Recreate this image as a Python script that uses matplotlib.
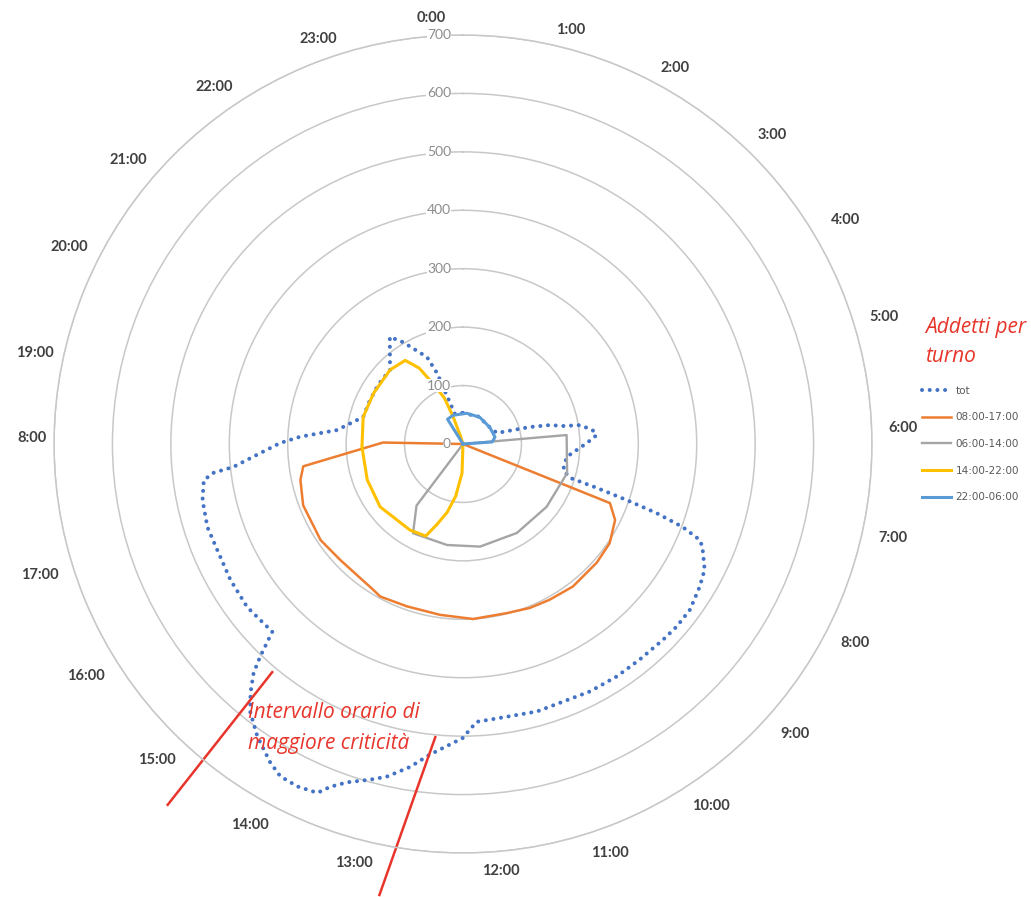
import numpy as np
import matplotlib
matplotlib.use("Agg")
import matplotlib.pyplot as plt
from matplotlib.transforms import offset_copy

# --- dati (ore del giorno, numero addetti) ---
tot_h = [0.00, 2.00, 3.87, 4.80, 5.05, 5.18, 5.32, 5.39, 5.59, 5.75, 5.97, 6.47, 6.97,
         7.17, 7.21, 7.26, 7.31, 7.38, 7.47, 7.55, 7.83, 8.07, 8.41, 8.70, 8.96, 9.38,
         9.77, 10.19, 10.59, 10.97, 11.63, 11.81, 11.91, 12.00, 12.41, 12.62, 12.86,
         13.03, 13.26, 13.41, 13.51, 13.72, 13.92, 14.08, 14.34, 14.56, 14.70, 14.83,
         14.91, 15.03, 15.21, 15.53, 15.98, 16.45, 16.80, 17.19, 17.47, 17.56, 17.62,
         17.83, 18.02, 18.17, 18.42, 19.01, 19.67, 20.33, 21.03, 21.71, 21.97, 22.50,
         22.66, 22.83, 23.00]
tot_v = [53, 54, 54, 61, 118, 152, 174, 203, 223, 229, 212, 179, 177,
         192, 241, 296, 352, 402, 437, 446, 466, 473, 481, 481, 479, 477,
         477, 476, 473, 475, 474, 476, 489, 503, 535, 560, 584,
         596, 612, 629, 647, 651, 649, 637, 612, 586, 560, 531,
         503, 458, 459, 463, 461, 458, 460, 456, 448, 430, 395,
         347, 313, 279, 217, 177, 176, 177, 178, 222, 202, 161,
         129, 74, 53]

t1_h = [7.43, 7.46, 7.77, 8.27, 8.77, 9.49, 10.06, 10.52, 11.03, 11.78, 12.51, 13.27,
        13.90, 14.11, 15.11, 15.73, 16.60, 17.17, 17.47, 18.07, 18.13]
t1_v = [0, 271, 291, 303, 306, 308, 305, 303, 299, 300, 295, 294,
        297, 293, 289, 294, 293, 285, 276, 137, 0]

t2_h = [5.65, 5.67, 7.04, 8.46, 9.92, 11.37, 12.60, 13.95, 14.47, 14.53]
t2_v = [0, 178, 185, 179, 178, 178, 175, 175, 132, 0]

t3_h = [11.80, 12.13, 12.53, 12.87, 13.20, 13.47, 14.11, 15.52, 16.63, 17.89, 19.01,
        19.97, 21.03, 21.69, 22.00, 22.27, 22.53, 22.67, 22.80, 22.87]
t3_v = [0, 50, 90, 120, 145, 170, 173, 178, 175, 173, 177,
        176, 178, 174, 150, 112, 85, 50, 15, 0]

t4_h = [21.86, 21.87, 22.73, 0.47, 2.13, 3.87, 5.20, 5.73, 5.75]
t4_v = [0, 50, 52, 53, 54, 54, 56, 50, 0]

serie = ["tot", "08:00-17:00", "06:00-14:00", "14:00-22:00", "22:00-06:00"]

ore_lab = ["0:00", "1:00", "2:00", "3:00", "4:00", "5:00", "6:00", "7:00", "8:00",
           "9:00", "10:00", "11:00", "12:00", "13:00", "14:00", "15:00", "16:00",
           "17:00", "8:00", "19:00", "20:00", "21:00", "22:00", "23:00"]
# posizione delle etichette (gradi, distanza in px dal centro)
lab_pos = [(-4.2, 427), (14.5, 428), (29.4, 432), (45.0, 437), (59.6, 443), (73.2, 440),
           (87.9, 440), (102.3, 440), (116.9, 440), (131.1, 441), (145.6, 439),
           (160.2, 435), (175.0, 429), (194.6, 433), (209.2, 437), (224.1, 440),
           (238.4, 443), (252.8, 443), (270.8, 431), (282.0, 438), (296.6, 440),
           (310.3, 439), (325.2, 435), (340.3, 430)]

# linee rosse dell'intervallo critico (ora, valore)
crit = [((14.66, 509), (14.62, 798)), ((12.36, 504), (12.70, 785))]

W, H = 1031, 897
cx, cy, R = 463, 444, 409
rmax = 700
rosso = "#e8352b"

fig = plt.figure(figsize=(W / 100, H / 100), dpi=100)
ax = fig.add_axes([(cx - R) / W, (H - cy - R) / H, 2 * R / W, 2 * R / H], projection="polar")
ax.set_theta_zero_location("N")
ax.set_theta_direction(-1)
ax.set_ylim(0, rmax)


def th(h):
    return np.asarray(h, dtype=float) / 24 * 2 * np.pi


ax.set_xticks([])
ax.xaxis.grid(False)
ax.set_yticks(range(100, rmax + 1, 100))
ax.set_yticklabels([])
ax.yaxis.grid(True, color="#c8c8c8", lw=1.1)
ax.spines["polar"].set_color("#c8c8c8")
ax.spines["polar"].set_linewidth(1.1)

tr = offset_copy(ax.transData, fig=fig, x=-12, y=0, units="dots")
for v in range(0, rmax + 1, 100):
    ax.text(0, v, str(v), transform=tr, ha="right", va="center", fontsize=10,
            color="#8c8c8c", family="Lato",
            bbox=dict(facecolor="white", edgecolor="none", pad=0.3))

linee = []
linee += ax.plot(th(tot_h + tot_h[:1]), tot_v + tot_v[:1], color="#4472c4", lw=2.9,
                 linestyle=(0, (0.01, 1.9)), dash_capstyle="round")
linee += ax.plot(th(t1_h), t1_v, color="#ed7d31", lw=1.8)
linee += ax.plot(th(t2_h), t2_v, color="#a5a5a5", lw=1.7)
linee += ax.plot(th(t3_h), t3_v, color="#ffc000", lw=2.2)
linee += ax.plot(th(t4_h), t4_v, color="#5b9bd5", lw=2.2)

for lab, (deg, rpx) in zip(ore_lab, lab_pos):
    ax.text(np.deg2rad(deg), rpx / R * rmax, lab, ha="center", va="center",
            fontsize=10.5, fontweight="bold", color="#404040", family="Lato")

for (h0, v0), (h1, v1) in crit:
    ax.plot(th([h0, h1]), [v0, v1], color=rosso, lw=1.8, clip_on=False)

ax.legend(linee, serie, loc="center left", bbox_to_anchor=(922 / W, 1 - 444 / H),
          bbox_transform=fig.transFigure, frameon=False, fontsize=7.5,
          handlelength=2.8, handletextpad=0.4, labelspacing=1.6, borderpad=0,
          borderaxespad=0, labelcolor="#595959")

testo = dict(style="italic", color=rosso, fontsize=15, family="Open Sans",
             ha="left", va="center")
fig.text(925 / W, 1 - 327 / H, "Addetti per", **testo)
fig.text(925 / W, 1 - 357 / H, "turno", **testo)
fig.text(248 / W, 1 - 712 / H, "Intervallo orario di", **testo)
fig.text(248 / W, 1 - 743 / H, "maggiore criticità", **testo)

fig.savefig("out.png", dpi=100, facecolor="white")
